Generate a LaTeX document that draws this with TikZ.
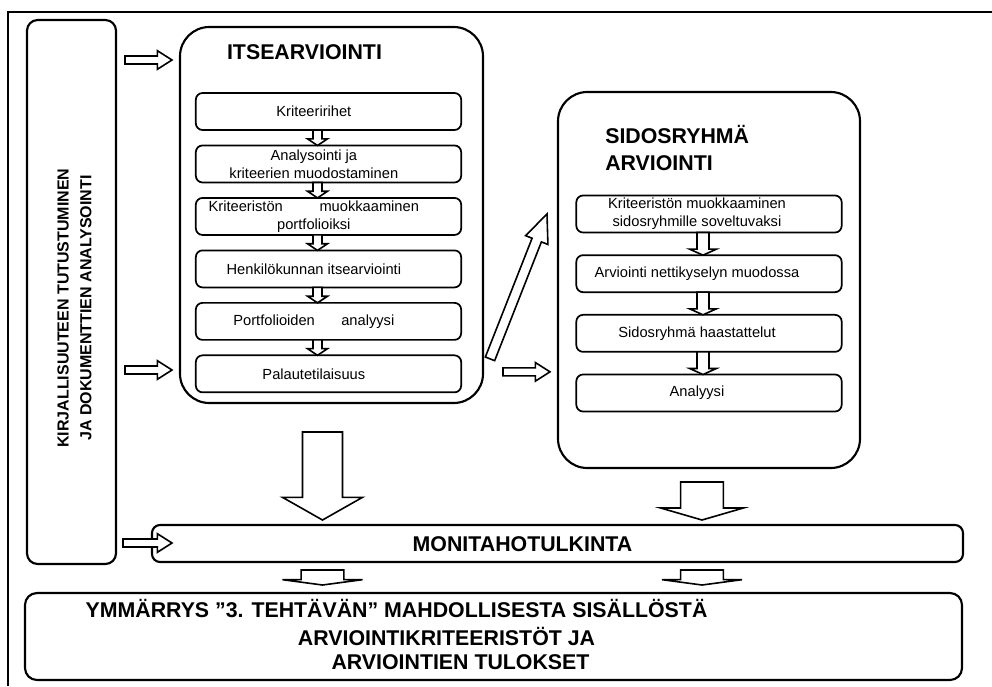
\documentclass[tikz,border=0pt]{standalone}
\usepackage{fontspec}
\setmainfont{Liberation Sans}
\usetikzlibrary{calc, positioning}
\tikzset{
    bigbox/.style={draw, line width=1.6pt, rounded corners=22pt, inner sep=0pt, outer sep=0pt},
    ibox/.style={draw, line width=1.3pt, rounded corners=5pt, inner sep=0pt, outer sep=0pt,
        minimum width=199pt, minimum height=27.75pt, label={[itxt]center:#1}},
    itxt/.style={font=\fontsize{11}{13.5}\selectfont, align=center, xshift=\txtshift},
    titletxt/.style={font=\bfseries\fontsize{16}{20}\selectfont, inner sep=0pt, align=left},
    sidetxt/.style={font=\bfseries\fontsize{12}{17}\selectfont, inner sep=0pt, align=center},
    blockarr/.style={draw, line width=1.2pt, fill=white, line join=miter},
}
% hollow block arrow: from, to, shaft half width, head half width, head length
\newcommand{\blockarrow}[5]{%
    \coordinate (neck) at ($(#2)!#5!(#1)$);
    \draw[blockarr] ($(#1)!#3!90:(#2)$) -- ($(neck)!#3!-90:(#1)$) -- ($(neck)!#4!-90:(#1)$) -- (#2)
        -- ($(neck)!#4!90:(#1)$) -- ($(neck)!#3!90:(#1)$) -- ($(#1)!#3!-90:(#2)$) -- cycle;
}
\def\txtshift{-11pt}
\begin{document}
\begin{tikzpicture}[x=0.75pt, y=-0.75pt]
    \useasboundingbox (0,0) rectangle (992,686);
    \draw[line width=1.6pt] (992,12) -- (8,12) -- (8,686);

    % literature column
    \node[bigbox, rounded corners=8pt, minimum width=66.75pt, minimum height=408pt] (lit) at (71.5,292) {};
    \node[sidetxt, rotate=90] (littxt) at ($(lit.center)+(3,16)$) {KIRJALLISUUTEEN TUTUSTUMINEN\\JA DOKUMENTTIEN ANALYSOINTI};

    % self evaluation
    \node[bigbox, minimum width=227.25pt, minimum height=282pt] (itse) at (331.5,215) {};
    \node[titletxt] (itsetit) at ($(itse.north)+(-27,25)$) {ITSEARVIOINTI};
    \begin{scope}[node distance=11.6pt]
    \node[ibox={Kriteeririhet}] (k1) at (328.5,111.5) {};
    \node[ibox={Analysointi ja\\kriteerien muodostaminen}, below=of k1] (k2) {};
    \node[ibox={Kriteeristön\hspace{2.5em}muokkaaminen\\portfolioiksi}, below=of k2] (k3) {};
    \node[ibox={Henkilökunnan itsearviointi}, below=of k3] (k4) {};
    \node[ibox={Portfolioiden\hspace{1.8em}analyysi}, below=of k4] (k5) {};
    \node[ibox={Palautetilaisuus}, below=of k5] (k6) {};
    \end{scope}

    % stakeholder evaluation
    \def\txtshift{-9pt}
    \node[bigbox, minimum width=226.5pt, minimum height=282pt] (sidos) at (709,280) {};
    \node[titletxt, anchor=west] (sidostit) at ($(sidos.north west)+(47,56)$) {SIDOSRYHMÄ\\ARVIOINTI};
    \begin{scope}[node distance=17pt]
    \node[ibox={Kriteeristön muokkaaminen\\sidosryhmille soveltuvaksi}] (s1) at (709,214) {};
    \node[ibox={Arviointi nettikyselyn muodossa}, below=of s1] (s2) {};
    \node[ibox={Sidosryhmä haastattelut}, below=of s2] (s3) {};
    \node[ibox={Analyysi}, below=of s3] (s4) {};
    \end{scope}

    % interpretation and result
    \node[bigbox, rounded corners=6pt, minimum width=608.25pt, minimum height=27.75pt] (monit) at (557.5,543.5) {};
    \node[titletxt] (monittxt) at ($(monit.center)+(-35,1)$) {MONITAHOTULKINTA};
    \node[bigbox, rounded corners=9pt, minimum width=702.75pt, minimum height=65.25pt] (ymm) at (493.5,636.5) {};
    \node[titletxt] (ymm1) at ($(ymm.center)+(-97,-28.5)$) {YMMÄRRYS ”3. TEHTÄVÄN” MAHDOLLISESTA SISÄLLÖSTÄ};
    \node[titletxt] (ymm2) at ($(ymm.center)+(-47,0)$) {ARVIOINTIKRITEERISTÖT JA};
    \node[titletxt] (ymm3) at ($(ymm.center)+(-33,25.5)$) {ARVIOINTIEN TULOKSET};

    % arrows inside the boxes
    \foreach \a/\b in {k1/k2,k2/k3,k3/k4,k4/k5,k5/k6}{
        \coordinate (ta) at ($(\a.south)+(-11,0)$);
        \coordinate (tb) at ($(\b.north)+(-11,0)$);
        \blockarrow{ta}{tb}{3.4pt}{7.5pt}{5pt}
    }
    \foreach \a/\b in {s1/s2,s2/s3,s3/s4}{
        \coordinate (ta) at ($(\a.south)+(-6,0)$);
        \coordinate (tb) at ($(\b.north)+(-6,0)$);
        \blockarrow{ta}{tb}{4.5pt}{10pt}{4.5pt}
    }

    % arrows from the literature column
    \coordinate (la1) at ($(lit.north east)+(9,40)$);
    \coordinate (la2) at ($(lit.north east)+(9,350)$);
    \coordinate (la3) at ($(lit.north east)+(7,523)$);
    \foreach \i in {1,2,3}{
        \coordinate (lb\i) at ($(itse.west |- la\i)+(-8,0)$);
        \blockarrow{la\i}{lb\i}{3pt}{7pt}{11pt}
    }

    % arrows between the big boxes
    \coordinate (ra) at ($(itse.east |- k6.center)+(20,-2)$);
    \coordinate (rb) at ($(sidos.west |- ra)+(-8,0)$);
    \blockarrow{ra}{rb}{3pt}{7pt}{11pt}
    \coordinate (ga) at ($(itse.east |- k6.center)+(7,-15)$);
    \coordinate (gb) at ($(sidos.west |- s1.center)+(-11,0)$);
    \blockarrow{ga}{gb}{3.75pt}{9pt}{21pt}

    \coordinate (d1a) at ($(itse.south)+(-9,29)$);
    \coordinate (d1b) at ($(monit.north -| d1a)+(0,-5)$);
    \blockarrow{d1a}{d1b}{15pt}{30pt}{17pt}
    \coordinate (d2a) at ($(sidos.south)+(-7,14)$);
    \coordinate (d2b) at ($(monit.north -| d2a)+(0,-5)$);
    \blockarrow{d2a}{d2b}{16pt}{31pt}{9pt}

    \coordinate (e1a) at ($(monit.south -| d1a)+(0,8)$);
    \coordinate (e1b) at ($(ymm.north -| d1a)+(0,-8)$);
    \blockarrow{e1a}{e1b}{16pt}{30pt}{4pt}
    \coordinate (e2a) at ($(monit.south -| d2a)+(0,8)$);
    \coordinate (e2b) at ($(ymm.north -| d2a)+(0,-8)$);
    \blockarrow{e2a}{e2b}{16pt}{30pt}{4pt}
\end{tikzpicture}
\end{document}
